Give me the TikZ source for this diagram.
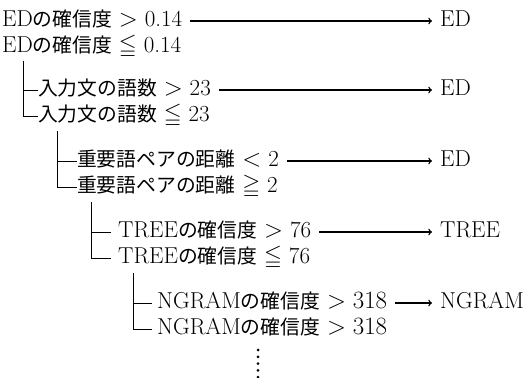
\documentclass[tikz,border=0pt]{standalone}
\usepackage{fontspec}
\usepackage{amssymb}
\newfontfamily\jp[Scale=0.86]{Noto Sans CJK JP}
\begin{document}
\begin{tikzpicture}[x=1pt,y=-1pt,
  txt/.style={anchor=west, inner sep=0pt, text height=16pt, text depth=5pt,
    font=\fontsize{23}{27}\selectfont},
  res/.style={txt, inner xsep=8pt},
  tree/.style={line width=0.9pt},
  arr/.style={->, line width=1.4pt, shorten <=8pt}]
\useasboundingbox (0,0) rectangle (529,377);
% rows
\node[txt] (a1) at (2,21) {ED{\jp の確信度}\ $>$\ 0.14};
\node[res] (e1) at (432,21) {ED};
\node[txt] (b1) at (2,47) {ED{\jp の確信度}\ $\leqq$\ 0.14};
\node[txt] (a2) at (38,90) {{\jp 入力文の語数}\ $>$\ 23};
\node[res] (e2) at (432,90) {ED};
\node[txt] (b2) at (38,116) {{\jp 入力文の語数}\ $\leqq$\ 23};
\node[txt] (a3) at (77,161) {{\jp 重要語ペアの距離}\ $<$\ 2};
\node[res] (e3) at (432,161) {ED};
\node[txt] (b3) at (77,187) {{\jp 重要語ペアの距離}\ $\geqq$\ 2};
\node[txt] (a4) at (118,232) {TREE{\jp の確信度}\ $>$\ 76};
\node[res] (e4) at (432,232) {TREE};
\node[txt] (b4) at (118,258) {TREE{\jp の確信度}\ $\leqq$\ 76};
\node[txt] (a5) at (157,303) {NGRAM{\jp の確信度}${}>318$};
\node[res] (e5) at (432,303) {NGRAM};
\node[txt] (b5) at (157,329) {NGRAM{\jp の確信度}${}>318$};
% continuation dots
\coordinate (dots) at (258,350);
\foreach \k in {0,...,4} \fill ([yshift=-6.8*\k pt]dots) circle (1.5pt);
% arrows
\foreach \i in {1,...,5} \draw[arr] (a\i.east) -- (e\i.west);
% tree connectors
\coordinate (v1) at (23,61);
\coordinate (v2) at (57,131);
\coordinate (v3) at (91,202);
\coordinate (v4) at (133,273);
\draw[tree] (v1) |- (b2.west);
\draw[tree] (v1 |- a2.west) -- (a2.west);
\draw[tree] (v2) |- (b3.west);
\draw[tree] (v2 |- a3.west) -- (a3.west);
\draw[tree, shorten >=7pt] (v3) |- (b4.west);
\draw[tree, shorten >=7pt] (v3 |- a4.west) -- (a4.west);
\draw[tree, shorten >=5pt] (v4) |- (b5.west);
\draw[tree, shorten >=5pt] (v4 |- a5.west) -- (a5.west);
\end{tikzpicture}
\end{document}
